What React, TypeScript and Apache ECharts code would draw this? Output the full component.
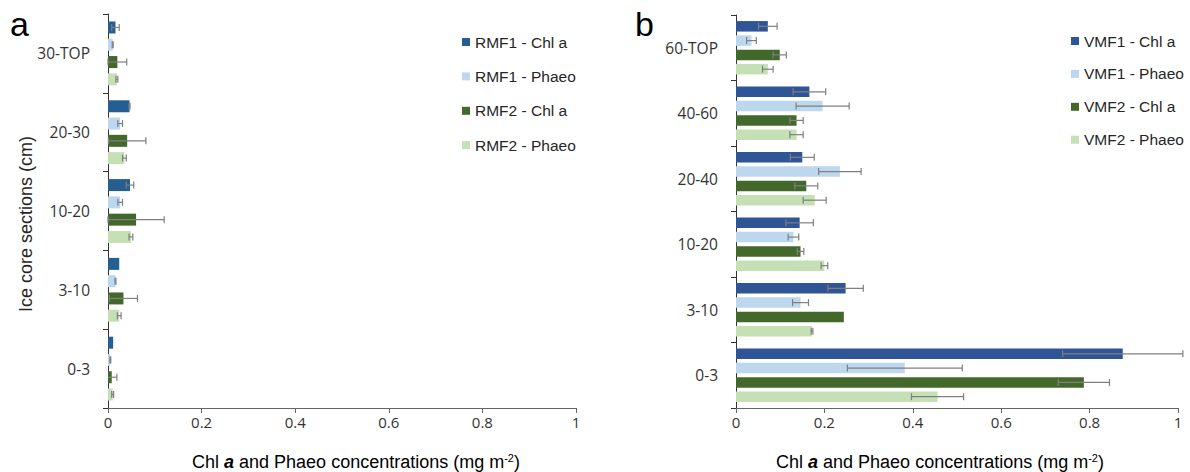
import React, { useEffect, useRef } from "react";
import * as echarts from "echarts";

// ---- Data (categories listed top to bottom) ----
const catsA = ["30-TOP", "20-30", "10-20", "3-10", "0-3"];
const namesA = ["RMF1 - Chl a", "RMF1 - Phaeo", "RMF2 - Chl a", "RMF2 - Phaeo"];
const rmf1Chl = [0.016, 0.046, 0.047, 0.024, 0.011];
const rmf1ChlErr = [0.008, 0.001, 0.008, 0, 0];
const rmf1Pha = [0.01, 0.026, 0.026, 0.016, 0.005];
const rmf1PhaErr = [0.001, 0.005, 0.005, 0.001, 0.001];
const rmf2Chl = [0.02, 0.041, 0.06, 0.033, 0.008];
const rmf2ChlErr = [0.02, 0.04, 0.06, 0.03, 0.011];
const rmf2Pha = [0.019, 0.035, 0.049, 0.024, 0.01];
const rmf2PhaErr = [0.002, 0.004, 0.004, 0.004, 0.002];

const catsB = ["60-TOP", "40-60", "20-40", "10-20", "3-10", "0-3"];
const namesB = ["VMF1 - Chl a", "VMF1 - Phaeo", "VMF2 - Chl a", "VMF2 - Phaeo"];
const vmf1Chl = [0.072, 0.166, 0.15, 0.144, 0.248, 0.875];
const vmf1ChlErr = [0.021, 0.037, 0.027, 0.031, 0.04, 0.136];
const vmf1Pha = [0.035, 0.196, 0.235, 0.13, 0.146, 0.382];
const vmf1PhaErr = [0.011, 0.06, 0.048, 0.012, 0.018, 0.13];
const vmf2Chl = [0.099, 0.137, 0.159, 0.146, 0.244, 0.787];
const vmf2ChlErr = [0.015, 0.015, 0.026, 0.0075, 0, 0.058];
const vmf2Pha = [0.072, 0.137, 0.178, 0.2, 0.172, 0.456];
const vmf2PhaErr = [0.012, 0.015, 0.026, 0.0075, 0.002, 0.059];

const xTicks = { min: 0, max: 1, interval: 0.2 };
const yTitle = "Ice core sections (cm)";

const colorsA = ["#255E91", "#BDD7EE", "#43682B", "#C5E0B4"];
const colorsB = ["#2F5597", "#BDD7EE", "#43682B", "#C5E0B4"];

const ARIAL = "Liberation Sans, Arial, sans-serif";
const TICKFONT = "Open Sans, sans-serif";

function errSeries(vals: number[], errs: number[], k: number, w: number, gap: number, idx: number) {
  const step = w * (1 + gap);
  return {
    type: "custom",
    xAxisIndex: idx,
    yAxisIndex: idx,
    silent: true,
    z: 10,
    data: vals.map((v, i) => [v, errs[i], i]),
    encode: { x: 0, y: 2 },
    renderItem: (params: any, api: any) => {
      const v = api.value(0);
      const e = api.value(1);
      const c = api.value(2);
      if (!e) return null;
      const base = api.coord([v, c]);
      const y = base[1] + (k - 1.5) * step;
      const lo = v - e;
      const x1 = api.coord([Math.max(0, lo), c])[0];
      const x2 = api.coord([v + e, c])[0];
      const st = { stroke: "#7F7F7F", lineWidth: 1.2 };
      const ch: any[] = [
        { type: "line", shape: { x1, y1: y, x2, y2: y }, style: st },
        { type: "line", shape: { x1: x2, y1: y - 3.5, x2, y2: y + 3.5 }, style: st },
      ];
      if (lo >= 0) ch.push({ type: "line", shape: { x1, y1: y - 3.5, x2: x1, y2: y + 3.5 }, style: st });
      return { type: "group", children: ch };
    },
  };
}

function barSeries(name: string, vals: number[], color: string, w: number, gap: string, idx: number) {
  return {
    type: "bar",
    name,
    xAxisIndex: idx,
    yAxisIndex: idx,
    data: vals,
    barWidth: w,
    barGap: gap,
    itemStyle: { color },
  };
}

const xAxisCommon = {
  type: "value",
  ...xTicks,
  axisLine: { show: true, lineStyle: { color: "#666666", width: 1 } },
  axisTick: { show: true, length: 5, lineStyle: { color: "#666666" } },
  axisLabel: { color: "#333333", fontFamily: TICKFONT, fontSize: 15, margin: 6 },
  splitLine: { show: false },
};

const yAxisCommon = {
  type: "category",
  inverse: true,
  axisLine: { show: true, lineStyle: { color: "#333333", width: 1 } },
  axisTick: { show: true, length: 5, alignWithLabel: false, lineStyle: { color: "#333333" } },
  axisLabel: { color: "#333333", fontFamily: TICKFONT, fontSize: 15.5, margin: 18 },
  splitLine: { show: false },
};

const xNameRich = {
  n: { fontFamily: ARIAL, fontSize: 18, color: "#262626", lineHeight: 20 },
  i: { fontFamily: ARIAL, fontSize: 18, color: "#262626", fontStyle: "italic", fontWeight: "bold", lineHeight: 20 },
  s: { fontFamily: ARIAL, fontSize: 11, color: "#262626", verticalAlign: "top", lineHeight: 12 },
};
const xNameText = "{n|Chl }{i|a}{n| and Phaeo concentrations (mg m}{s|-2}{n|)}";

const legendCommon = {
  orient: "vertical",
  padding: 0,
  itemWidth: 8,
  itemHeight: 8,
  icon: "rect",
  textStyle: { fontFamily: ARIAL, fontSize: 15.5, color: "#262626", lineHeight: 16 },
};

export default function App() {
  const ref = useRef<HTMLDivElement>(null);
  useEffect(() => {
    document.body.style.margin = "0";
    if (!ref.current) return;
    const chart = echarts.init(ref.current, undefined, { renderer: "svg" });
    const wA = 12, gA = 0.44, wB = 10.5, gB = 0.36;
    const aVals = [rmf1Chl, rmf1Pha, rmf2Chl, rmf2Pha];
    const aErrs = [rmf1ChlErr, rmf1PhaErr, rmf2ChlErr, rmf2PhaErr];
    const bVals = [vmf1Chl, vmf1Pha, vmf2Chl, vmf2Pha];
    const bErrs = [vmf1ChlErr, vmf1PhaErr, vmf2ChlErr, vmf2PhaErr];
    const series: any[] = [];
    aVals.forEach((v, k) => series.push(barSeries(namesA[k], v, colorsA[k], wA, gA * 100 + "%", 0)));
    bVals.forEach((v, k) => series.push(barSeries(namesB[k], v, colorsB[k], wB, gB * 100 + "%", 1)));
    aVals.forEach((v, k) => series.push(errSeries(v, aErrs[k], k, wA, gA, 0)));
    bVals.forEach((v, k) => series.push(errSeries(v, bErrs[k], k, wB, gB, 1)));

    chart.setOption({
      animation: false,
      backgroundColor: "#ffffff",
      grid: [
        { left: 108, top: 14, width: 468, height: 394 },
        { left: 736, top: 15, width: 442, height: 393 },
      ],
      xAxis: [
        { ...xAxisCommon, gridIndex: 0 },
        { ...xAxisCommon, gridIndex: 1 },
      ],
      yAxis: [
        { ...yAxisCommon, gridIndex: 0, data: catsA },
        { ...yAxisCommon, gridIndex: 1, data: catsB },
      ],
      legend: [
        { ...legendCommon, data: namesA, left: 462, top: 34, itemGap: 18.4 },
        { ...legendCommon, data: namesB, left: 1071, top: 33, itemGap: 16.9 },
      ],
      graphic: [
        { type: "text", x: 10, y: 24, style: { text: "a", fontFamily: ARIAL, fontSize: 34, fill: "#000", verticalAlign: "middle" } },
        { type: "text", x: 635, y: 24, style: { text: "b", fontFamily: ARIAL, fontSize: 34, fill: "#000", verticalAlign: "middle" } },
        {
          type: "text",
          x: 26,
          y: 224,
          rotation: Math.PI / 2,
          style: { text: yTitle, fontFamily: ARIAL, fontSize: 18, fill: "#262626", align: "center", verticalAlign: "middle" },
        },
        { type: "text", x: 356, y: 462, style: { text: xNameText, rich: xNameRich, align: "center", verticalAlign: "middle" } },
        { type: "text", x: 940, y: 462, style: { text: xNameText, rich: xNameRich, align: "center", verticalAlign: "middle" } },
      ],
      series,
    });
    return () => chart.dispose();
  }, []);
  return <div ref={ref} style={{ width: 1190, height: 472 }} />;
}
